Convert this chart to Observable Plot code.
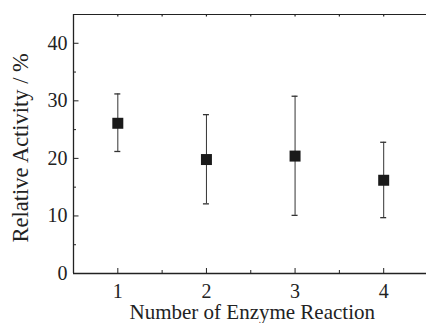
<!DOCTYPE html>
<html><head><meta charset="utf-8">
<script src="https://cdn.jsdelivr.net/npm/d3@7"></script>
<script src="https://cdn.jsdelivr.net/npm/@observablehq/plot@0.6"></script>
<style>body{margin:0;background:#fff}</style>
</head><body><div id="chart"></div>
<script>
const reactions = [1, 2, 3, 4];
const activity = [26.1, 19.8, 20.4, 16.2];
const errLow = [21.2, 12.1, 10.1, 9.7];
const errHigh = [31.2, 27.6, 30.8, 22.8];
const xDomain = [0.5, 4.5];
const yDomain = [0, 45];
const xMajor = [1, 2, 3, 4];
const xMinor = [1.5, 2.5, 3.5];
const yMajor = [0, 10, 20, 30, 40];
const yMinor = [5, 15, 25, 35];
const xLabel = "Number of Enzyme Reaction";
const yLabel = "Relative Activity / %";

const data = reactions.map((r, i) => ({x: r, y: activity[i], lo: errLow[i], hi: errHigh[i]}));
const ink = "#222";
const font = "Liberation Serif, Times New Roman, serif";

const chart = Plot.plot({
  width: 426,
  height: 323,
  marginLeft: 73,
  marginTop: 14,
  marginBottom: 50,
  marginRight: -1.5,
  style: {fontFamily: font, fontSize: "20px", color: ink, background: "#fff", overflow: "hidden"},
  x: {domain: xDomain},
  y: {domain: yDomain},
  marks: [
    // frame
    Plot.ruleY([yDomain[0]], {stroke: ink, strokeWidth: 1.3}),
    Plot.ruleY([yDomain[1]], {stroke: ink, strokeWidth: 1.1}),
    Plot.ruleX([xDomain[0]], {stroke: ink, strokeWidth: 1.3}),
    // inward ticks bottom
    Plot.ruleX(xMajor, {x: d => d, y1: yDomain[0], y2: yDomain[0], insetTop: -5, stroke: ink, strokeWidth: 1}),
    Plot.ruleX(xMinor, {x: d => d, y1: yDomain[0], y2: yDomain[0], insetTop: -3, stroke: ink, strokeWidth: 1}),
    // inward ticks top
    Plot.ruleX(xMajor.concat(xMinor), {x: d => d, y1: yDomain[1], y2: yDomain[1], insetBottom: -2.5, stroke: ink, strokeWidth: 1.2}),
    // inward ticks left
    Plot.ruleY(yMajor, {y: d => d, x1: xDomain[0], x2: xDomain[0], insetRight: -5.5, stroke: ink, strokeWidth: 1}),
    Plot.ruleY(yMinor, {y: d => d, x1: xDomain[0], x2: xDomain[0], insetRight: -3, stroke: ink, strokeWidth: 1}),
    // tick labels
    Plot.axisX(xMajor, {tickSize: 0, tickPadding: 10, fontSize: 20, label: null, fontFamily: font, fill: ink}),
    Plot.axisY(yMajor, {tickSize: 0, tickPadding: 6, fontSize: 20, label: null, fontFamily: font, fill: ink}),
    // axis titles
    Plot.text([xLabel], {text: d => d, frameAnchor: "bottom", lineAnchor: "middle", textAnchor: "middle", dy: 38.3, dx: 1.5, fontSize: 21, fontFamily: font, fill: ink}),
    Plot.text([yLabel], {text: d => d, frameAnchor: "left", lineAnchor: "middle", textAnchor: "middle", rotate: -90, dx: -53, dy: 3.8, fontSize: 22.5, fontFamily: font, fill: ink}),
    // error bars
    Plot.ruleX(data, {x: "x", y1: "lo", y2: "hi", stroke: "#333", strokeWidth: 1}),
    Plot.ruleY(data, {y: "hi", x1: "x", x2: "x", insetLeft: -3, insetRight: -3, stroke: "#333", strokeWidth: 1.3}),
    Plot.ruleY(data, {y: "lo", x1: "x", x2: "x", insetLeft: -3, insetRight: -3, stroke: "#333", strokeWidth: 1.3}),
    // points
    Plot.dot(data, {x: "x", y: "y", symbol: "square", r: 6.2, fill: "#1a1a1a", stroke: "none"})
  ]
});
document.getElementById("chart").appendChild(chart);
</script>
</body></html>
